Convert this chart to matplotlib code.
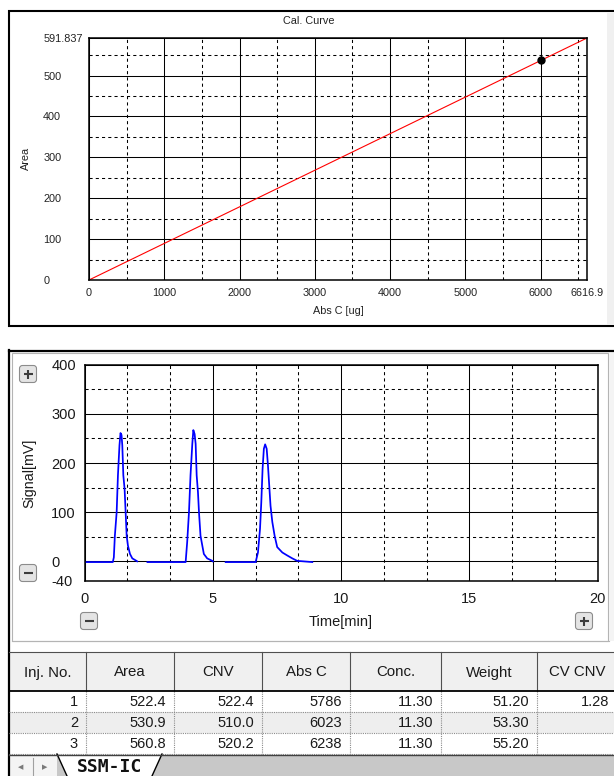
"""Calibration curve, chromatogram and result table (instrument screen copy)."""

import matplotlib
matplotlib.use('Agg')
import matplotlib.pyplot as plt  # pylint: disable=wrong-import-position
from matplotlib import font_manager  # pylint: disable=wrong-import-position
from matplotlib.patches import Rectangle, FancyBboxPatch, Polygon  # pylint: disable=wrong-import-position

W, H = 614, 776
FONT = ['Liberation Sans', 'DejaVu Sans']
# the table uses a tall, narrow UI font; take the narrow Liberation face if present
_names = {f.name for f in font_manager.fontManager.ttflist}
if 'Liberation Sans Narrow' in _names:
    TABLE_FONT, TABLE_SIZE = ['Liberation Sans Narrow', 'DejaVu Sans'], 11.5
else:
    TABLE_FONT, TABLE_SIZE = FONT, 10.5

# --- calibration curve -------------------------------------------------------
CAL_X = [0, 6616.9]
CAL_Y = [0, 591.837]
STD_X = [6010]
STD_Y = [539]
CAL_XTICKS = [0, 1000, 2000, 3000, 4000, 5000, 6000, 6616.9]
CAL_XLABELS = ['0', '1000', '2000', '3000', '4000', '5000', '6000', '6616.9']
CAL_XMINOR = [500, 1500, 2500, 3500, 4500, 5500, 6500]
CAL_YTICKS = [0, 100, 200, 300, 400, 500, 591.837]
CAL_YLABELS = ['0', '100', '200', '300', '400', '500', '591.837']
CAL_YMINOR = [50, 150, 250, 350, 450, 550]

# --- chromatogram: three injections (time [min], signal [mV]) ---------------
T1 = [0.0, 1.10, 1.14, 1.18, 1.25, 1.30, 1.36, 1.40, 1.44, 1.47, 1.51, 1.56,
      1.60, 1.64, 1.69, 1.77, 1.86, 1.99, 2.05]
S1 = [-1.5, -1.5, 8, 52, 100, 175, 236, 261, 257, 236, 175, 147,
      100, 52, 32, 15, 6, 2, 0]
T2 = [2.45, 3.94, 4.00, 4.07, 4.13, 4.20, 4.24, 4.29, 4.33, 4.37, 4.42, 4.46,
      4.52, 4.59, 4.65, 4.78, 4.98, 5.00]
S2 = [-1.5, -1.5, 39, 100, 175, 239, 267, 259, 239, 175, 141, 100,
      52, 32, 15, 6, 1, 0]
T3 = [5.50, 6.67, 6.76, 6.84, 6.89, 6.94, 6.99, 7.04, 7.10, 7.15, 7.20, 7.25,
      7.32, 7.41, 7.51, 7.71, 7.90, 8.10, 8.29, 8.88]
S3 = [-1.5, -1.5, 18, 66, 120, 188, 229, 238, 229, 195, 154, 113,
      80, 52, 29, 18, 12, 6, 1, -1.5]
SIG_XTICKS = [0, 5, 10, 15, 20]
SIG_XMINOR = [1.667, 3.333, 6.667, 8.333, 11.667, 13.333, 16.667, 18.333]
SIG_YTICKS = [-40, 0, 100, 200, 300, 400]
SIG_YMINOR = [50, 150, 250, 350]

# --- result table ------------------------------------------------------------
HEADERS = ['Inj. No.', 'Area', 'CNV', 'Abs C', 'Conc.', 'Weight', 'CV CNV']
INJ_NO = ['1', '2', '3']
AREA = ['522.4', '530.9', '560.8']
CNV = ['522.4', '510.0', '520.2']
ABS_C = ['5786', '6023', '6238']
CONC = ['11.30', '11.30', '11.30']
WEIGHT = ['51.20', '53.30', '55.20']
CV_CNV = ['1.28', '', '']
SHEET = 'SSM-IC'


def rect(left, top, right, bottom):
    """Pixel box (from top-left) -> figure fraction."""
    return [left / W, 1 - bottom / H, (right - left) / W, (bottom - top) / H]


def style_grid(ax, xmajor, xminor, ymajor, yminor):
    ax.set_xticks(xmajor)
    ax.set_xticks(xminor, minor=True)
    ax.set_yticks(ymajor)
    ax.set_yticks(yminor, minor=True)
    ax.set_axisbelow(True)
    ax.grid(which='major', color='black', lw=0.75, ls='-')
    ax.grid(which='minor', color='black', lw=0.75, ls=(0, (3, 3)))
    ax.tick_params(which='both', length=0)
    for sp in ax.spines.values():
        sp.set_linewidth(1.1)
        sp.set_color('black')


fig = plt.figure(figsize=(W / 100, H / 100), dpi=100)
fig.patch.set_facecolor('white')

bg = fig.add_axes([0, 0, 1, 1], zorder=0)
bg.set_xlim(0, W)
bg.set_ylim(H, 0)
bg.axis('off')

# panel frames
bg.add_patch(Rectangle((9, 11), 620, 315, fc='white', ec='black', lw=1.5))
bg.add_patch(Rectangle((607, 13), 8, 312, fc='#f0f0f0', ec='none'))
bg.plot([9, W], [350.5, 350.5], color='black', lw=1.6)
bg.plot([9, 9], [350, H], color='black', lw=1.6)
bg.add_patch(Rectangle((11.5, 353), 596.5, 288, fc='white', ec='#b4b4b4', lw=0.8))
bg.add_patch(Rectangle((608.5, 353), 6, 288, fc='#f4f4f4', ec='none'))

# ---- calibration curve
ax1 = fig.add_axes(rect(89, 38, 587, 280), zorder=2)
ax1.plot(CAL_X, CAL_Y, color='#ff0000', lw=0.8)
ax1.plot(STD_X, STD_Y, 'o', color='black', ms=5, zorder=3)
ax1.set_xlim(0, 6616.9)
ax1.set_ylim(0, 591.837)
style_grid(ax1, CAL_XTICKS, CAL_XMINOR, CAL_YTICKS, CAL_YMINOR)
ax1.set_xticklabels(CAL_XLABELS, fontsize=7.8, family=FONT, color='#222222')
ax1.set_yticklabels(CAL_YLABELS, fontsize=7.8, family=FONT, color='#222222')
ax1.tick_params(axis='x', pad=5.5)
ax1.tick_params(axis='y', pad=33)
for lab in ax1.get_yticklabels():
    lab.set_horizontalalignment('left')

bg.text(309, 21, 'Cal. Curve', fontsize=7.8, family=FONT, ha='center', va='center',
        color='#222222')
bg.text(338, 311, 'Abs C [ug]', fontsize=7.8, family=FONT, ha='center', va='center',
        color='#222222')
bg.text(26, 158, 'Area', fontsize=7.8, family=FONT, ha='center', va='center',
        rotation=90, color='#222222')

# ---- chromatogram
ax2 = fig.add_axes(rect(84.6, 364.7, 597.5, 581), zorder=2)
for t, s in ((T1, S1), (T2, S2), (T3, S3)):
    ax2.plot(t, s, color='#0000ff', lw=1.25)
ax2.set_xlim(0, 20)
ax2.set_ylim(-40, 400)
style_grid(ax2, SIG_XTICKS, SIG_XMINOR, SIG_YTICKS, SIG_YMINOR)
ax2.set_xticklabels([str(v) for v in SIG_XTICKS], fontsize=10.5, family=FONT,
                    color='#1a1a1a')
ax2.set_yticklabels([str(v) for v in SIG_YTICKS], fontsize=10.5, family=FONT,
                    color='#1a1a1a')
ax2.tick_params(axis='x', pad=8)
ax2.tick_params(axis='y', pad=24)
for lab in ax2.get_yticklabels():
    lab.set_horizontalalignment('left')

bg.text(341, 622, 'Time[min]', fontsize=10.5, family=FONT, ha='center', va='center',
        color='#1a1a1a')
bg.text(29, 473, 'Signal[mV]', fontsize=10.3, family=FONT, ha='center', va='center',
        rotation=90, color='#1a1a1a')


def button(x, y, sign):
    bg.add_patch(FancyBboxPatch((x - 7, y - 7), 14, 14,
                                boxstyle='round,pad=1.5,rounding_size=3',
                                fc='#e4e4e4', ec='#8c8c8c', lw=0.8))
    bg.plot([x - 4.5, x + 4.5], [y, y], color='#3c3c3c', lw=1.5, solid_capstyle='butt')
    if sign == '+':
        bg.plot([x, x], [y - 4.5, y + 4.5], color='#3c3c3c', lw=1.5, solid_capstyle='butt')


button(28, 374, '+')
button(28, 573, '-')
button(89, 621, '-')
button(584, 621, '+')

# ---- table
COLS = [9, 86, 174, 262, 350, 441, 537, 617]
HEAD_TOP, HEAD_BOT, ROW_H = 652, 691, 21
columns = [INJ_NO, AREA, CNV, ABS_C, CONC, WEIGHT, CV_CNV]
n_rows = len(INJ_NO)
table_bot = HEAD_BOT + n_rows * ROW_H

bg.plot([11.5, 608.5], [641, 641], color='#b4b4b4', lw=0.8)
bg.add_patch(Rectangle((COLS[0], HEAD_TOP), W - COLS[0], HEAD_BOT - HEAD_TOP,
                       fc='#f0f0f0', ec='none'))
for r in range(n_rows):
    y0 = HEAD_BOT + r * ROW_H
    bg.add_patch(Rectangle((COLS[0], y0), W - COLS[0], ROW_H,
                           fc='#eeeeee' if r % 2 else 'white', ec='none'))
    for c, col in enumerate(columns):
        bg.text(COLS[c + 1] - 8, y0 + ROW_H / 2 + 0.5, col[r], fontsize=TABLE_SIZE,
                family=TABLE_FONT, ha='right', va='center', color='#1a1a1a')
    bg.plot([COLS[0], W], [y0 + ROW_H, y0 + ROW_H], color='#8c8c8c', lw=0.8,
            ls=(0, (1, 1)))

for c, name in enumerate(HEADERS):
    bg.text((COLS[c] + COLS[c + 1]) / 2, (HEAD_TOP + HEAD_BOT) / 2 + 1, name,
            fontsize=10.8, family=FONT, ha='center', va='center', color='#1a1a1a')
for x in COLS[1:-1]:
    bg.plot([x, x], [HEAD_TOP, HEAD_BOT], color='#505050', lw=0.8)
    bg.plot([x, x], [HEAD_BOT, table_bot], color='#8c8c8c', lw=0.8, ls=(0, (1, 1)))
bg.plot([COLS[0], W], [HEAD_TOP, HEAD_TOP], color='#505050', lw=0.8)
bg.plot([COLS[0], W], [HEAD_BOT, HEAD_BOT], color='black', lw=1.3)

# sheet tab strip
bg.add_patch(Rectangle((10, table_bot + 1), W - 10, H - table_bot, fc='#c8c8c8', ec='none'))
bg.add_patch(Rectangle((10, table_bot + 1), 47, H - table_bot, fc='#f4f4f4', ec='none'))
bg.plot([33, 33], [table_bot + 4, H], color='#a0a0a0', lw=0.8)
bg.text(21, 767, '\u25c0', fontsize=5, ha='center', va='center', color='#7a7a7a')
bg.text(45, 767, '\u25b6', fontsize=5, ha='center', va='center', color='#7a7a7a')
bg.add_patch(Polygon([(57, table_bot), (67, H), (152, H), (162, table_bot)],
                     closed=True, fc='white', ec='none'))
bg.plot([57, 67], [table_bot, H], color='black', lw=1.0)
bg.plot([152, 162], [H, table_bot], color='black', lw=1.0)
bg.plot([9, W], [table_bot + 0.5, table_bot + 0.5], color='#404040', lw=1.0)
bg.text(110, 767, SHEET, fontsize=13, family=['DejaVu Sans Mono'], weight='bold',
        ha='center', va='center', color='#111111')

fig.savefig('out.png', dpi=100)
plt.close(fig)
